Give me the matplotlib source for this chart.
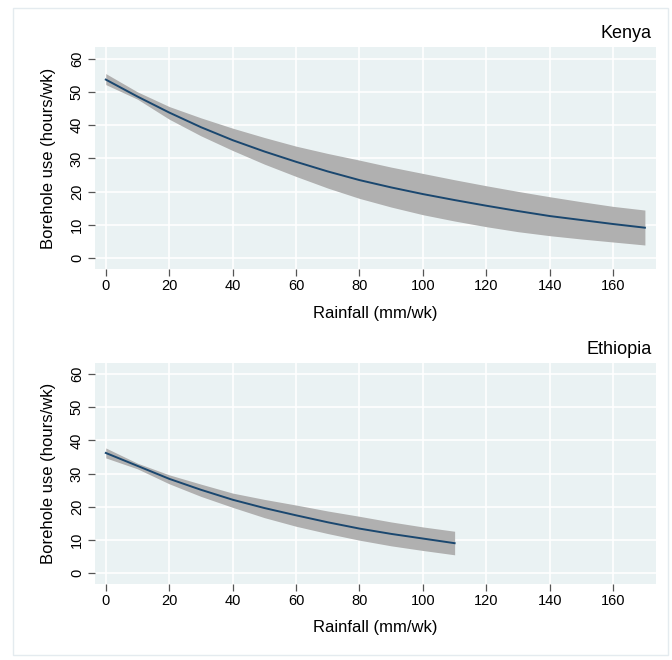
import matplotlib
matplotlib.use("Agg")
import matplotlib.pyplot as plt
from matplotlib.patches import Rectangle

# ---------------------------
# Data
# ---------------------------
kenya_rain = [0, 10, 20, 30, 40, 50, 60, 70, 80, 90, 100, 110, 120, 130, 140, 150, 160, 170]
kenya_fit = [53.7, 48.6, 43.8, 39.4, 35.5, 32.1, 29.0, 26.1, 23.5, 21.3, 19.3, 17.5, 15.8, 14.2, 12.7, 11.5, 10.3, 9.2]
kenya_lo = [52.2, 47.8, 41.8, 36.8, 32.4, 28.3, 24.6, 21.1, 18.0, 15.4, 13.1, 11.2, 9.5, 8.0, 6.8, 5.8, 4.9, 4.0]
kenya_hi = [55.5, 50.0, 45.6, 42.2, 39.1, 36.3, 33.7, 31.5, 29.5, 27.4, 25.5, 23.6, 21.8, 20.1, 18.5, 17.0, 15.6, 14.5]

ethiopia_rain = [0, 10, 20, 30, 40, 50, 60, 70, 80, 90, 100, 110]
ethiopia_fit = [36.2, 32.3, 28.4, 25.1, 22.1, 19.6, 17.4, 15.3, 13.4, 11.8, 10.4, 9.0]
ethiopia_lo = [34.7, 31.4, 26.9, 23.1, 19.8, 16.7, 14.1, 11.9, 9.9, 8.2, 6.8, 5.5]
ethiopia_hi = [37.7, 33.1, 29.6, 26.8, 24.1, 22.2, 20.5, 18.7, 17.1, 15.4, 13.9, 12.6]

x_ticks = [0, 20, 40, 60, 80, 100, 120, 140, 160]
y_ticks = [0, 10, 20, 30, 40, 50, 60]

plt.rcParams["font.family"] = ["Liberation Sans", "DejaVu Sans"]

PLOT_BG = "#EAF2F3"
BAND = "#B0B0B0"
LINE = "#1A476F"
TICK = "#555555"


def draw_panel(ax, rain, fit, lo, hi):
    ax.set_facecolor(PLOT_BG)
    ax.fill_between(rain, lo, hi, color=BAND, lw=0, zorder=2)
    ax.plot(rain, fit, color=LINE, lw=1.4, zorder=3)
    ax.set_xlim(-3.4, 173.5)
    ax.set_ylim(-3.3, 63.4)
    ax.set_xticks(x_ticks)
    ax.set_yticks(y_ticks)
    ax.grid(color="white", lw=1.2)
    ax.set_axisbelow(True)
    for s in ax.spines.values():
        s.set_visible(False)
    ax.tick_params(direction="out", length=5, width=0.9, color=TICK,
                   labelsize=10.5, labelcolor="black")
    ax.tick_params(axis="x", pad=2)
    ax.tick_params(axis="y", pad=3)
    for lab in ax.get_yticklabels():
        lab.set_rotation(90)
        lab.set_va("center")
    ax.set_xlabel("Rainfall (mm/wk)", fontsize=12, labelpad=9)
    ax.set_ylabel("Borehole use (hours/wk)", fontsize=12, labelpad=10)


# ---------------------------
# Figure
# ---------------------------
fig = plt.figure(figsize=(6.72, 6.6), dpi=100)
fig.patches.append(Rectangle((13 / 672, 5 / 660), 655 / 672, 647 / 660,
                             transform=fig.transFigure, fill=False,
                             edgecolor="#E4EBEF", lw=1))

ax1 = fig.add_axes([95 / 672, 1 - 269.3 / 660, 561 / 672, 222 / 660])
draw_panel(ax1, kenya_rain, kenya_fit, kenya_lo, kenya_hi)
fig.text(652 / 672, 1 - 34 / 660, "Kenya", ha="right", va="center", fontsize=13)

ax2 = fig.add_axes([95 / 672, 1 - 584 / 660, 561 / 672, 221.3 / 660])
draw_panel(ax2, ethiopia_rain, ethiopia_fit, ethiopia_lo, ethiopia_hi)
fig.text(652 / 672, 1 - 350 / 660, "Ethiopia", ha="right", va="center", fontsize=13)

fig.savefig("out.png", dpi=100)
